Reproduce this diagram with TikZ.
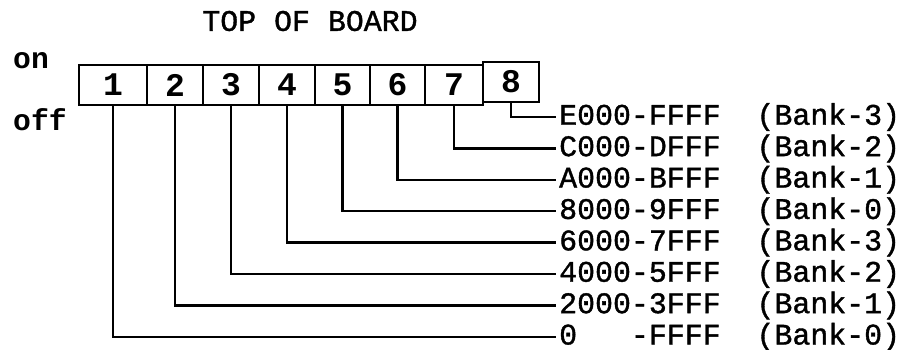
\documentclass[tikz,border=0pt]{standalone}
\usepackage{fontspec}
\setmainfont{Liberation Mono}
\newfontfamily\heavymono[FakeBold=1.2]{Liberation Mono}
\usetikzlibrary{positioning}

\begin{document}
\begin{tikzpicture}[x=1pt,y=-1pt,
  txt/.style={font=\heavymono\fontsize{29.9}{32}\selectfont,inner sep=0pt},
  side/.style={font=\fontsize{29.7}{32}\selectfont\bfseries,inner sep=0pt,
               anchor=base west},
  cell/.style={draw,line width=2.8pt,outer sep=0pt,minimum width=56pt,
               minimum height=40pt,inner sep=0pt,
               font=\fontsize{33}{34}\selectfont\bfseries},
  lead/.style={line width=2.4pt},
  addr/.style={txt,anchor=west,inner sep=3pt}]
\useasboundingbox (0,0) rectangle (903,349);
\node[txt] (title) at (310,21) {TOP OF BOARD};
\node[side] (on) at (13,68) {on};
\node[side] (off) at (13,130) {off};
% switch cells
\node[cell,minimum width=68pt] (c1) at (113,85) {1};
\node[cell,right=0pt of c1] (c2) {2};
\node[cell,right=0pt of c2] (c3) {3};
\node[cell,right=0pt of c3] (c4) {4};
\node[cell,minimum width=55pt,right=0pt of c4] (c5) {5};
\node[cell,minimum width=55pt,right=0pt of c5] (c6) {6};
\node[cell,minimum width=58pt,right=0pt of c6] (c7) {7};
\node[cell,right=0pt of c7,yshift=3pt] (c8) {8};
% address ranges
\node[addr] (r8) at (556,117) {E000-FFFF\ \ (Bank-3)};
\node[addr] (r7) at (556,148.4) {C000-DFFF\ \ (Bank-2)};
\node[addr] (r6) at (556,179.8) {A000-BFFF\ \ (Bank-1)};
\node[addr] (r5) at (556,211.2) {8000-9FFF\ \ (Bank-0)};
\node[addr] (r4) at (556,242.6) {6000-7FFF\ \ (Bank-3)};
\node[addr] (r3) at (556,274) {4000-5FFF\ \ (Bank-2)};
\node[addr] (r2) at (556,305.4) {2000-3FFF\ \ (Bank-1)};
\node[addr] (r1) at (556,336.8) {0\ \ \ -FFFF\ \ (Bank-0)};
\draw[lead] (c8.south) |- (r8.west);
\draw[lead] (c7.south) |- (r7.west);
\draw[lead] (c6.south) |- (r6.west);
\draw[lead] (c5.south) |- (r5.west);
\draw[lead] (c4.south) |- (r4.west);
\draw[lead] (c3.south) |- (r3.west);
\draw[lead] (c2.south) |- (r2.west);
\draw[lead] (c1.south) |- (r1.west);
\end{tikzpicture}
\end{document}
